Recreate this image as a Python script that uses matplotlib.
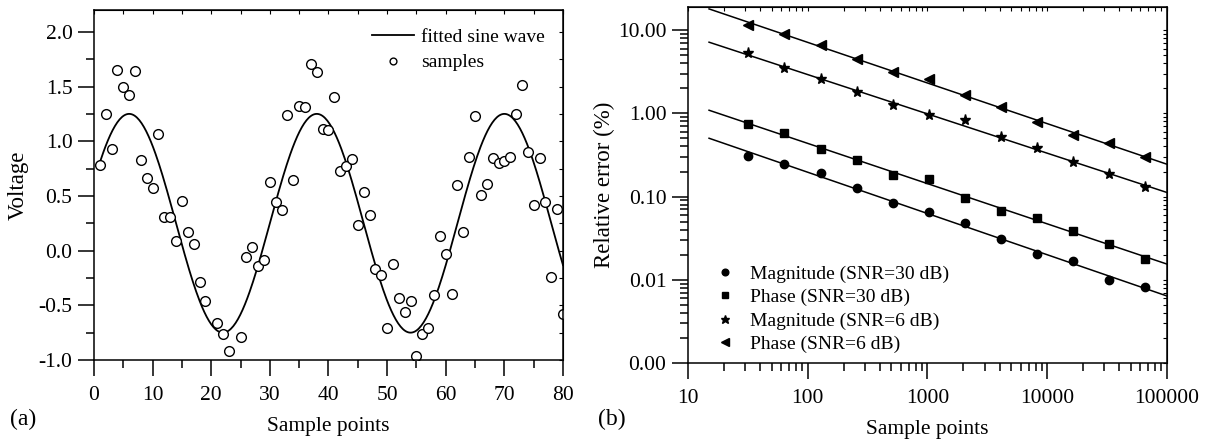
import matplotlib
matplotlib.use("Agg")
import matplotlib.pyplot as plt
import numpy as np
from matplotlib.ticker import MultipleLocator, FixedLocator, LogLocator, FormatStrFormatter, NullFormatter

plt.rcParams['font.family'] = ['Liberation Serif', 'DejaVu Serif']
plt.rcParams['font.size'] = 15.5
plt.rcParams['mathtext.fontset'] = 'stix'

# (a) noisy samples of a sine wave
sample_x = [1, 2, 3, 4, 5, 6, 7, 8, 9, 10, 11, 12, 13, 14, 15, 16, 17, 18, 19,
            21, 22, 23, 25, 26, 27, 28, 29, 30, 31, 32, 33, 34, 35, 36, 37, 38,
            39, 40, 41, 42, 43, 44, 45, 46, 47, 48, 49, 50, 51, 52, 53, 54, 55,
            56, 57, 58, 59, 60, 61, 62, 63, 64, 65, 66, 67, 68, 69, 70, 71, 72,
            73, 74, 75, 76, 77, 78, 79, 80]
sample_v = [0.78, 1.25, 0.93, 1.65, 1.50, 1.42, 1.64, 0.83, 0.665, 0.57, 1.07,
            0.305, 0.31, 0.09, 0.45, 0.17, 0.058, -0.29, -0.46,
            -0.66, -0.76, -0.915, -0.79, -0.06, 0.03, -0.14, -0.09, 0.625, 0.44,
            0.37, 1.24, 0.65, 1.326, 1.314, 1.71, 1.63, 1.11, 1.10, 1.40, 0.73,
            0.77, 0.84, 0.23, 0.54, 0.33, -0.17, -0.22, -0.71, -0.12, -0.43,
            -0.56, -0.46, -0.96, -0.76, -0.71, -0.41, 0.137, -0.03, -0.40, 0.60,
            0.17, 0.86, 1.23, 0.51, 0.61, 0.85, 0.80, 0.82, 0.86, 1.25, 1.51,
            0.90, 0.42, 0.85, 0.44, -0.24, 0.38, -0.58]

# fitted sine parameters
fit_amp = 1.0
fit_offset = 0.25
fit_period = 32.0
fit_peak = 6.0

# (b) relative error vs number of sample points
n_points = [32, 64, 128, 256, 512, 1024, 2048, 4096, 8192, 16384, 32768, 65536]
mag_30db = [0.308, 0.244, 0.19, 0.128, 0.083, 0.065, 0.048, 0.031, 0.0204, 0.0166, 0.010, 0.0081]
phase_30db = [0.745, 0.575, 0.373, 0.273, 0.182, 0.163, 0.095, 0.067, 0.056, 0.039, 0.0267, 0.018]
mag_6db = [5.25, 3.47, 2.56, 1.79, 1.26, 0.955, 0.83, 0.525, 0.38, 0.258, 0.187, 0.129]
phase_6db = [11.5, 8.9, 6.7, 4.45, 3.13, 2.56, 1.66, 1.2, 0.79, 0.545, 0.436, 0.30]

fig = plt.figure(figsize=(12.11, 4.41), dpi=100)
ax1 = fig.add_axes([0.0776, 0.1837, 0.3873, 0.7937])
ax2 = fig.add_axes([0.5681, 0.1769, 0.3955, 0.8073])


def style_ticks(ax):
    ax.tick_params(which='major', direction='out', length=11.5, width=1.1, pad=4,
                   top=False, right=False)
    ax.tick_params(which='minor', direction='out', length=6, width=1.1,
                   top=False, right=False)
    ax.tick_params(axis='x', which='major', pad=7)
    for s in ax.spines.values():
        s.set_linewidth(1.1)
    # short inward ticks on the opposite sides
    tx = ax.secondary_xaxis('top')
    ty = ax.secondary_yaxis('right')
    for t in (tx, ty):
        t.tick_params(which='both', direction='in', length=3, width=0.8)
    return tx, ty


# --- panel (a)
xx = np.linspace(1, 80, 400)
yy = fit_offset + fit_amp * np.cos(2 * np.pi * (xx - fit_peak) / fit_period)
ax1.plot(xx, yy, color='black', lw=1.3, label='fitted sine wave')
ax1.plot(sample_x, sample_v, 'o', ms=7, mfc='white', mec='black', mew=1.0,
         ls='none', label='samples')
ax1.set_xlim(0, 80)
ax1.set_ylim(-1.0, 2.2)
ax1.xaxis.set_major_locator(MultipleLocator(10))
ax1.xaxis.set_minor_locator(MultipleLocator(5))
ax1.yaxis.set_major_locator(MultipleLocator(0.5))
ax1.yaxis.set_minor_locator(MultipleLocator(0.25))
ax1.yaxis.set_major_formatter(FormatStrFormatter('%.1f'))
tx, ty = style_ticks(ax1)
tx.xaxis.set_major_locator(MultipleLocator(5))
ty.yaxis.set_major_locator(MultipleLocator(0.25))
tx.set_xticklabels([])
ty.set_yticklabels([])
ax1.set_xlabel('Sample points', labelpad=9, fontsize=15.5)
ax1.set_ylabel('Voltage', labelpad=7, fontsize=16.5)
ax1.legend(loc='upper right', frameon=False, handlelength=2.15, handletextpad=0.35,
           markerscale=0.7, borderaxespad=0.55, labelspacing=0.4, fontsize=14)

# --- panel (b)
series = [
    (mag_30db, 'o', 6, 'Magnitude (SNR=30 dB)'),
    (phase_30db, 's', 5.5, 'Phase (SNR=30 dB)'),
    (mag_6db, '*', 8, 'Magnitude (SNR=6 dB)'),
    (phase_6db, '<', 6.5, 'Phase (SNR=6 dB)'),
]
xfit = np.array([15, 100000])
for vals, mk, ms, lab in series:
    k, b = np.polyfit(np.log10(n_points), np.log10(vals), 1)
    ax2.plot(xfit, 10 ** (b + k * np.log10(xfit)), color='black', lw=1.1)
    ax2.plot(n_points, vals, mk, ms=ms, color='black', ls='none', label=lab)

ax2.set_xscale('log')
ax2.set_yscale('log')
ax2.set_xlim(10, 100000)
ax2.set_ylim(0.001, 19)
ax2.xaxis.set_major_locator(FixedLocator([10, 100, 1000, 10000, 100000]))
ax2.xaxis.set_major_formatter(FormatStrFormatter('%d'))
ax2.xaxis.set_minor_locator(LogLocator(base=10, subs=np.arange(2, 10)))
ax2.xaxis.set_minor_formatter(NullFormatter())
ax2.yaxis.set_major_locator(FixedLocator([0.001, 0.01, 0.1, 1, 10]))
ax2.yaxis.set_major_formatter(FormatStrFormatter('%.2f'))
ax2.yaxis.set_minor_locator(LogLocator(base=10, subs=np.arange(2, 10)))
ax2.yaxis.set_minor_formatter(NullFormatter())
tx2, ty2 = style_ticks(ax2)
for t in (tx2.xaxis, ty2.yaxis):
    t.set_major_locator(LogLocator(base=10, subs=np.arange(1, 10)))
    t.set_minor_locator(LogLocator(base=10, subs=np.arange(1, 10)))
    t.set_major_formatter(NullFormatter())
    t.set_minor_formatter(NullFormatter())
ax2.set_xlabel('Sample points', labelpad=9, fontsize=15.5)
ax2.set_ylabel('Relative error (%)', labelpad=2, fontsize=16.5)
ax2.legend(loc='lower left', bbox_to_anchor=(0.0, -0.022), frameon=False,
           handletextpad=0.3, markerscale=0.8, labelspacing=0.3, fontsize=14)

fig.text(0.008, 0.048, '(a)', fontsize=17, va='center', ha='left')
fig.text(0.494, 0.048, '(b)', fontsize=17, va='center', ha='left')

fig.savefig('out.png', dpi=100)
